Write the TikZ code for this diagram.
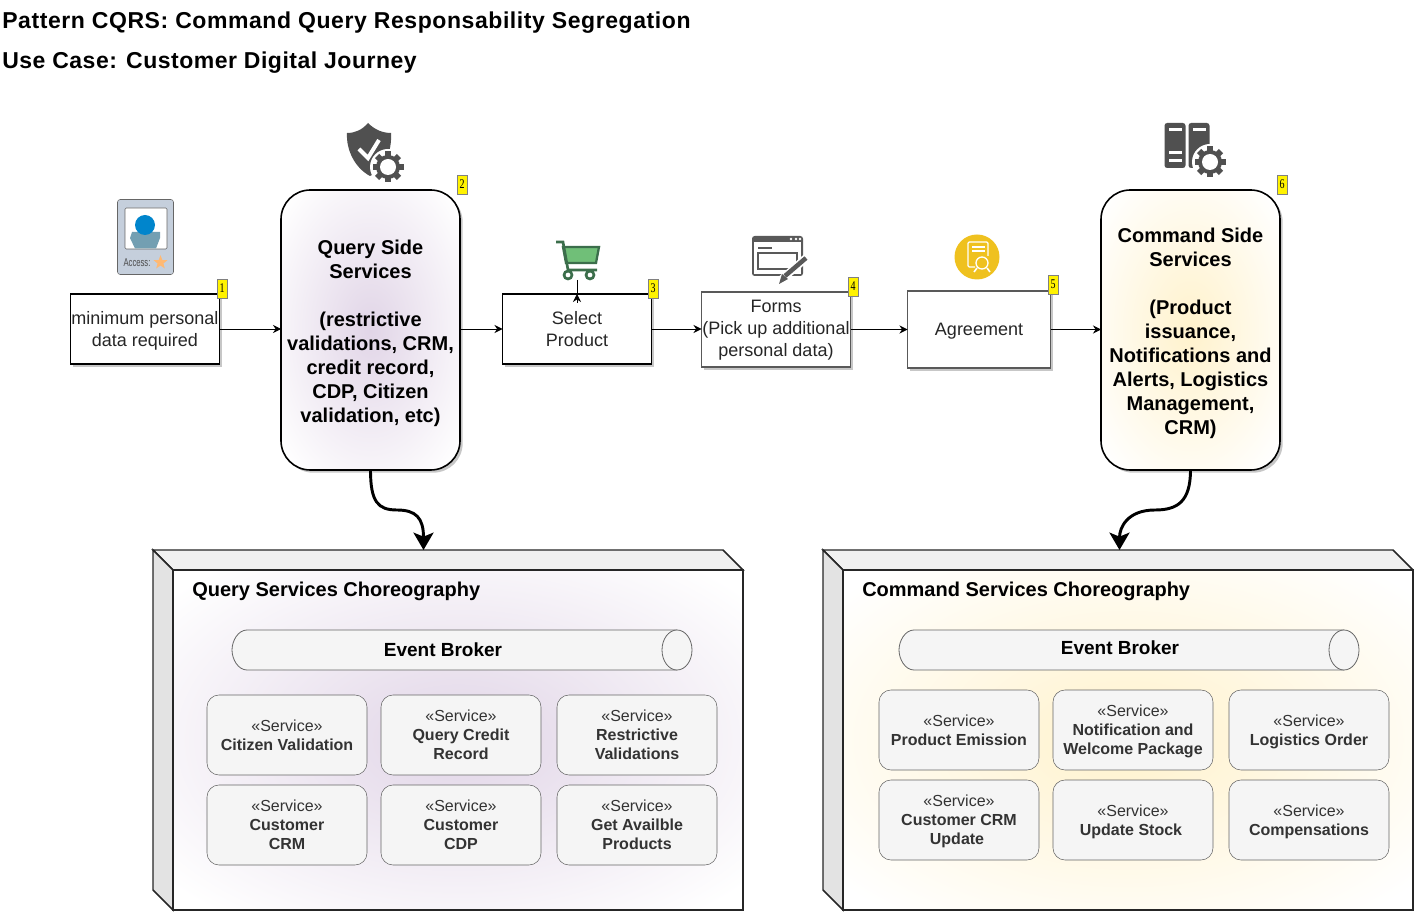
\documentclass[tikz,border=0pt]{standalone}
\usepackage{fontspec}
\setmainfont{Liberation Sans}
\newfontfamily\badgefont{Liberation Serif}
\usetikzlibrary{arrows.meta,shadows,shapes.geometric}
\definecolor{glowp}{HTML}{E1D5E7}
\definecolor{glowy}{HTML}{FFF2CC}
\definecolor{iconink}{HTML}{505050}
\definecolor{svcink}{HTML}{333333}
\definecolor{cartink}{HTML}{3B6E4B}
\definecolor{cartfill}{HTML}{70BF78}
\definecolor{seal}{HTML}{EFC11F}
\definecolor{cardfill}{HTML}{C5CFDC}
\pgfdeclareradialshading{glowpurple}{\pgfpointorigin}{color(0bp)=(glowp); color(33bp)=(white); color(50bp)=(white)}
\pgfdeclareradialshading{glowyellow}{\pgfpointorigin}{color(0bp)=(glowy); color(33bp)=(white); color(50bp)=(white)}
\tikzset{
	boxsize/.style 2 args={minimum width=#1*0.75pt, minimum height=#2*0.75pt, inner sep=0pt, outer sep=0pt},
	softshadow/.style={drop shadow={shadow xshift=2pt, shadow yshift=-2pt, opacity=0.22, fill=black}},
	flowbox/.style={draw=black, fill=white, line width=0.9pt, softshadow, align=center, text=black!85, font=\fontsize{13.5}{16.5}\selectfont},
	sidebox/.style={draw=black, rounded corners=22pt, line width=1.2pt, softshadow, align=center, font=\bfseries\fontsize{15}{18}\selectfont},
	badge/.style={draw=black!50, fill=yellow, boxsize={10}{19}, font=\badgefont\fontsize{10}{10}\selectfont},
	servicebox/.style={draw=black!60, fill=black!4, rounded corners=9pt, boxsize={160}{80}, align=center, text=svcink, font=\fontsize{12}{14.25}\selectfont},
	flow/.style={-{Stealth[length=6pt,width=6pt]}, line width=0.6pt},
	bigflow/.style={-{Stealth[length=13pt,width=15pt,inset=3pt]}, line width=2.2pt},
	cubeface/.style={draw=black!85, line width=1.1pt},
	brokerbody/.style={draw=black!60, fill=black!4, line width=0.6pt},
	heading/.style={anchor=west, inner sep=0pt, font=\bfseries\fontsize{17.25}{20}\selectfont},
	gear/.pic={
		\fill[white] (0,0) circle[radius=18];
		\foreach \a in {0,45,...,315} {\fill[iconink, rotate=\a] (-3,-15.5) rectangle (3,-9);}
		\fill[iconink] (0,0) circle[radius=12];
		\fill[white] (0,0) circle[radius=8];
	},
}
\newcommand{\drop}[1]{\rule{0pt}{#1}}
\newcommand{\svc}[1]{\drop{11.8pt}«Service»\\\textbf{#1\rule[-3pt]{0pt}{3pt}}}
\newcommand{\svctwo}[2]{\drop{11.8pt}«Service»\\\textbf{#1}\\\textbf{#2\rule[-3pt]{0pt}{3pt}}}
\newcommand{\digit}[1]{\scalebox{0.75}[1]{#1}}
\begin{document}
\begin{tikzpicture}[x=0.75pt,y=-0.75pt]
	\useasboundingbox (0,0) rectangle (1414,912);
	% titles
	\node[heading] (title) at (2,23) {\addfontfeature{LetterSpace=2.5}Pattern CQRS: Command Query Responsability Segregation};
	\node[heading] (usecase) at (2,63) {\addfontfeature{LetterSpace=2.2}Use Case: Customer Digital Journey};

	% flow boxes
	\node[flowbox, boxsize={149}{70}] (minimum) at (145,329) {\drop{12.8pt}minimum personal\\data required};
	\node[sidebox, boxsize={179}{280}, shading=glowpurple] (query) at (370.5,330) {\drop{15.5pt}Query Side\\Services\\[18pt](restrictive\\validations, CRM,\\credit record,\\CDP, Citizen\\validation, etc)};
	\node[flowbox, boxsize={149}{70}] (select) at (577,329) {\drop{10pt}Select\\Product};
	\node[flowbox, draw=black!65, boxsize={149}{75}] (forms) at (776,329.5) {\drop{10.6pt}Forms\\(Pick up additional\\personal data)};
	\node[flowbox, draw=black!65, boxsize={143}{77}] (agreement) at (979,329.5) {\drop{12pt}Agreement};
	\node[sidebox, boxsize={179}{280}, shading=glowyellow] (command) at (1190.5,330) {\drop{15.5pt}Command Side\\Services\\[18pt](Product\\issuance,\\Notifications and\\Alerts, Logistics\\Management,\\CRM)};

	% badges
	\node[badge] (badge1) at (222,288.5) {\digit{1}};
	\node[badge] (badge2) at (462,184.5) {\digit{2}};
	\node[badge] (badge3) at (653,288.5) {\digit{3}};
	\node[badge] (badge4) at (853,286.5) {\digit{4}};
	\node[badge] (badge5) at (1053,284.5) {\digit{5}};
	\node[badge] (badge6) at (1282,184.5) {\digit{6}};

	% access card
	\draw[draw=black!60, fill=cardfill, rounded corners=2pt] (117.5,199.5) rectangle (173.5,274.5);
	\draw[draw=black!60, fill=white, rounded corners=1pt] (125,208) rectangle (167,249);
	\fill[blue!30!cyan!45!black!55] (132,232) -- (160,232) -- (160,238) -- (156,248.5) -- (135,248.5) -- (130,238) -- cycle;
	\fill[blue!35!cyan!80!black] (145,225) circle[radius=10];
	\node[inner sep=0pt, text=black!70, font=\fontsize{8.5}{9}\selectfont] (access) at (137,262.5) {\scalebox{0.68}[1]{Access:}};
	\node[star, star points=5, star point ratio=2.4, fill=orange!55, inner sep=0pt, minimum size=11pt] (accessstar) at (160.5,262.5) {};

	% shield icon
	\fill[iconink] (368,123) .. controls (375,130) and (383,133) .. (391,133) .. controls (392,150) and (386,168) .. (370,176) .. controls (355,168) and (346,150) .. (347,133) .. controls (355,133) and (362,130) .. (368,123) -- cycle;
	\draw[white, line width=3pt] (359,149) -- (368,158) -- (379,140);
	\pic at (388,167) {gear};

	% server icon
	\fill[iconink, rounded corners=2pt] (1164.5,123) rectangle (1185.5,168);
	\fill[iconink, rounded corners=2pt] (1188.5,123) rectangle (1209.5,168);
	\foreach \y in {130,153,161} {\fill[white] (1169,\y-1.5) rectangle (1182,\y+1.5);}
	\fill[white] (1193,128.5) rectangle (1206,131.5);
	\pic at (1210,162) {gear};

	% cart icon
	\draw[draw=cartink, fill=cartfill, line width=1.7pt] (563,247) -- (599,247) -- (596,263) -- (566,263) -- cycle;
	\draw[draw=cartink, line width=2pt] (556,242) -- (563,242) -- (568,270) -- (597,270);
	\draw[draw=cartink, fill=white, line width=2pt] (568,275) circle[radius=4];
	\draw[draw=cartink, fill=white, line width=2pt] (590,275) circle[radius=4];
	\coordinate (cartfoot) at (577,280);
	\coordinate (selectbase) at (577,303);

	% forms icon
	\fill[black!65, rounded corners=2pt] (752,236) rectangle (803,276);
	\fill[white] (754,242) rectangle (801,274);
	\foreach \x in {791,796,800} {\fill[white] (\x,239) circle[radius=1.3];}
	\draw[black!65, line width=0.8pt] (758,248) -- (772,248);
	\draw[black!65, line width=1pt] (758,253) rectangle (797,269);
	\draw[white, line width=6pt] (781,280) -- (806,258);
	\draw[black!65, line width=3.4pt] (785,276) -- (806,258);
	\fill[black!65] (779,284) -- (782,274) -- (788,279) -- cycle;

	% agreement icon
	\fill[seal] (977,257) circle[radius=22.5];
	\draw[white, line width=0.9pt, rounded corners=1pt] (988,256) -- (988,242) -- (968,242) -- (968,267) -- (975,267);
	\draw[white, line width=0.9pt] (972,247) -- (985,247) (972,251) -- (985,251);
	\draw[white, fill=seal, line width=1pt] (982,263) circle[radius=6];
	\draw[white, line width=1.2pt] (977,268) -- (974,272) (987,268) -- (990,272);

	% query choreography
	\node[boxsize={570}{340}, shading=glowpurple] (qfront) at (458,740) {};
	\draw[cubeface, fill=black!6] (153,550) -- (723,550) -- (743,570) -- (173,570) -- cycle;
	\draw[cubeface, fill=black!11] (153,550) -- (173,570) -- (173,910) -- (153,890) -- cycle;
	\draw[cubeface] (173,570) rectangle (743,910);
	\coordinate (qtop) at (423.5,550);
	\coordinate (qmid) at (397,510);
	\node[anchor=west, inner sep=0pt, font=\bfseries\fontsize{15}{18}\selectfont] (qtitle) at (192,591) {Query Services Choreography};
	\draw[brokerbody] (677,630) -- (247,630) .. controls (238,630) and (232,641) .. (232,650) .. controls (232,659) and (238,670) .. (247,670) -- (677,670);
	\node[ellipse, draw=black!60, fill=black!4, line width=0.6pt, boxsize={30}{40}] (qcap) at (677,650) {};
	\node[font=\bfseries\fontsize{14.25}{16}\selectfont] (qbroker) at (443,649.5) {Event Broker};
	\node[servicebox] (citizen) at (287,735) {\svc{Citizen Validation}};
	\node[servicebox] (credit) at (461,735) {\svctwo{Query Credit}{Record}};
	\node[servicebox] (restrictive) at (637,735) {\svctwo{Restrictive}{Validations}};
	\node[servicebox] (crm) at (287,825) {\svctwo{Customer}{CRM}};
	\node[servicebox] (cdp) at (461,825) {\svctwo{Customer}{CDP}};
	\node[servicebox] (products) at (637,825) {\svctwo{Get Availble}{Products}};

	% command choreography
	\node[boxsize={570}{340}, shading=glowyellow] (cfront) at (1128,740) {};
	\draw[cubeface, fill=black!6] (823,550) -- (1393,550) -- (1413,570) -- (843,570) -- cycle;
	\draw[cubeface, fill=black!11] (823,550) -- (843,570) -- (843,910) -- (823,890) -- cycle;
	\draw[cubeface] (843,570) rectangle (1413,910);
	\coordinate (ctop) at (1119.5,550);
	\coordinate (cmid) at (1155,510);
	\node[anchor=west, inner sep=0pt, font=\bfseries\fontsize{15}{18}\selectfont] (ctitle) at (862,591) {Command Services Choreography};
	\draw[brokerbody] (1344,630) -- (914,630) .. controls (905,630) and (899,641) .. (899,650) .. controls (899,659) and (905,670) .. (914,670) -- (1344,670);
	\node[ellipse, draw=black!60, fill=black!4, line width=0.6pt, boxsize={30}{40}] (ccap) at (1344,650) {};
	\node[font=\bfseries\fontsize{14.25}{16}\selectfont] (cbroker) at (1120,647.5) {Event Broker};
	\node[servicebox] (emission) at (959,730) {\svc{Product Emission}};
	\node[servicebox] (welcome) at (1133,730) {\svctwo{Notification and}{Welcome Package}};
	\node[servicebox] (logistics) at (1309,730) {\svc{Logistics Order}};
	\node[servicebox] (crmupdate) at (959,820) {\svctwo{Customer CRM}{Update\kern3pt}};
	\node[servicebox] (stock) at (1133,820) {\svc{Update Stock\kern3pt}};
	\node[servicebox] (compensations) at (1309,820) {\svc{Compensations}};

	% connectors
	\draw[flow] (minimum.east) -- (query.west |- minimum.east);
	\draw[flow] (query.east |- select.west) -- (select.west);
	\draw[flow] (select.east) -- (forms.west |- select.east);
	\draw[flow] (forms.east) -- (agreement.west |- forms.east);
	\draw[flow] (agreement.east) -- (command.west |- agreement.east);
	\draw[line width=0.6pt] (cartfoot) -- (select.north);
	\draw[flow] (selectbase) -- (select.north);
	\draw[bigflow] (query.south) .. controls +(0,32) and +(-19,0) .. (qmid) .. controls +(19,0) and +(0,-32) .. (qtop);
	\draw[bigflow] (command.south) .. controls +(0,32) and +(22,0) .. (cmid) .. controls +(-28,0) and +(0,-22) .. (ctop);
\end{tikzpicture}
\end{document}
